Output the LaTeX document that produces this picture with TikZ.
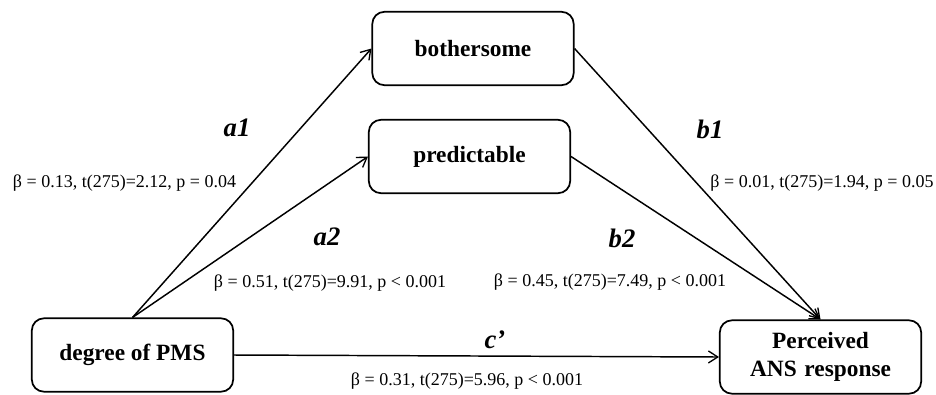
\documentclass[tikz,border=0pt]{standalone}
\usepackage{fontspec}
\setmainfont{Liberation Serif}[BoldFont={Liberation Serif Bold},ItalicFont={Liberation Serif Italic},BoldItalicFont={Liberation Serif Bold Italic}]
\usetikzlibrary{arrows.meta}
\begin{document}
\begin{tikzpicture}[x=0.75pt,y=-0.75pt,
  box/.style={draw,line width=1.3pt,rounded corners=9pt,minimum width=151pt,minimum height=55pt,align=center,font=\fontsize{17.5}{20.5}\selectfont\bfseries,inner sep=0pt},
  conn/.style={line width=1.1pt,-{Straight Barb[length=7pt,width=9pt,line width=1pt]}},
  pathlab/.style={font=\fontsize{20}{22}\selectfont\bfseries\itshape},
  stat/.style={font=\fontsize{13.5}{15}\selectfont,inner sep=0pt}]
\useasboundingbox (0,0) rectangle (936,394);
\node[box] (pms) at (132.5,355) {degree of PMS};
\node[box] (bs) at (473,48.5) {bothersome};
\node[box] (pd) at (469.5,156.5) {predictable};
\node[box,text width=140pt] (pr) at (820.5,357) {Perceived\\ANS response};
\draw[conn] (pms.north) -- (bs.west);
\draw[conn] (pms.north) -- (pd.west);
\draw[conn] (bs.east) -- (pr.north);
\draw[conn] (pd.east) -- (pr.north);
\draw[conn] (pms.east) -- (pr.west);
\node[pathlab] (la1) at (237,128) {a1};
\node[pathlab] (la2) at (327,237) {a2};
\node[pathlab] (lb1) at (710,129) {b1};
\node[pathlab] (lb2) at (622,238) {b2};
\node[pathlab] (lc) at (495,340) {c'};
\node[stat] (sa1) at (124.5,183) {β = 0.13, t(275)=2.12, p = 0.04};
\node[stat] (sa2) at (330,283) {β = 0.51, t(275)=9.91, p < 0.001};
\node[stat] (sb1) at (822,183) {β = 0.01, t(275)=1.94, p = 0.05};
\node[stat] (sb2) at (610,282) {β = 0.45, t(275)=7.49, p < 0.001};
\node[stat] (sc) at (467,381) {β = 0.31, t(275)=5.96, p < 0.001};
\end{tikzpicture}
\end{document}
